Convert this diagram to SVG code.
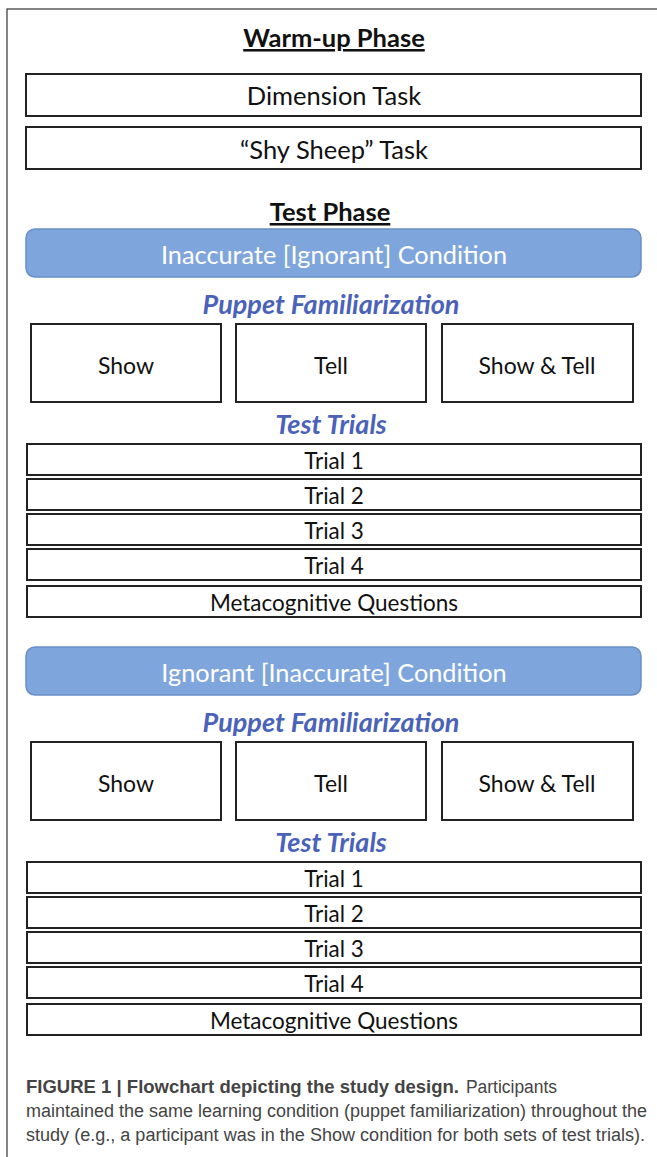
<svg xmlns="http://www.w3.org/2000/svg" width="657" height="1157" viewBox="0 0 657 1157">
<style>
.box{fill:#fff;stroke:#222;stroke-width:2}
.bar{fill:#7fa6dc;stroke:#6a8fc6;stroke-width:1.5}
.t{font-family:Lato,"Open Sans",sans-serif;fill:#111;text-anchor:middle}
.tr{font-size:22.5px}
.bx{font-size:23px}
.hd{font-family:Lato,"Open Sans",sans-serif;font-weight:bold;font-size:25.5px;fill:#111;text-anchor:middle;text-decoration:underline}
.cond{font-family:Lato,"Open Sans",sans-serif;font-size:25.3px;fill:#fff;text-anchor:middle}
.sub{font-family:Lato,"Open Sans",sans-serif;font-weight:bold;font-style:italic;font-size:27px;fill:#4a62ba;text-anchor:middle}
.cap{font-family:"Liberation Sans",Arial,sans-serif;font-size:18px;fill:#444}
</style>
<rect x="7" y="9" width="660" height="1160" fill="none" stroke="#333" stroke-width="1.2"/>
<g id="warmup">
<text class="hd" x="334" y="47">Warm-up Phase</text>
<g id="dimension"><rect class="box" x="26" y="74" width="615" height="42"/><text class="t" x="334" y="105" font-size="25.5">Dimension Task</text></g>
<g id="shysheep"><rect class="box" x="26" y="127" width="615" height="42"/><text class="t" x="334" y="159" font-size="25.5">“Shy Sheep” Task</text></g>
</g>
<text class="hd" x="330" y="221">Test Phase</text>
<g id="section1">
<g id="cond1"><rect class="bar" x="26" y="229" width="615" height="48" rx="9"/><text class="cond" x="334" y="264">Inaccurate [Ignorant] Condition</text></g>
<text class="sub" x="331" y="314">Puppet Familiarization</text>
<g id="show1"><rect class="box" x="31" y="324" width="190" height="78"/><text class="t bx" x="126" y="374">Show</text></g>
<g id="tell1"><rect class="box" x="236" y="324" width="190" height="78"/><text class="t bx" x="331" y="374">Tell</text></g>
<g id="showtell1"><rect class="box" x="442" y="324" width="191" height="78"/><text class="t bx" x="537" y="374">Show &amp; Tell</text></g>
<text class="sub" x="331" y="434">Test Trials</text>
<g id="trial1a"><rect class="box" x="27" y="444" width="614" height="31"/><text class="t tr" x="334" y="469">Trial 1</text></g>
<g id="trial2a"><rect class="box" x="27" y="479" width="614" height="31"/><text class="t tr" x="334" y="504">Trial 2</text></g>
<g id="trial3a"><rect class="box" x="27" y="514" width="614" height="31"/><text class="t tr" x="334" y="539">Trial 3</text></g>
<g id="trial4a"><rect class="box" x="27" y="549" width="614" height="31"/><text class="t tr" x="334" y="574">Trial 4</text></g>
<g id="meta1"><rect class="box" x="27" y="586" width="614" height="31"/><text class="t tr" x="334" y="611">Metacognitive Questions</text></g>
</g>
<g id="section2">
<g id="cond2"><rect class="bar" x="26" y="647" width="615" height="48" rx="9"/><text class="cond" x="334" y="682">Ignorant [Inaccurate] Condition</text></g>
<text class="sub" x="331" y="732">Puppet Familiarization</text>
<g id="show2"><rect class="box" x="31" y="742" width="190" height="78"/><text class="t bx" x="126" y="792">Show</text></g>
<g id="tell2"><rect class="box" x="236" y="742" width="190" height="78"/><text class="t bx" x="331" y="792">Tell</text></g>
<g id="showtell2"><rect class="box" x="442" y="742" width="191" height="78"/><text class="t bx" x="537" y="792">Show &amp; Tell</text></g>
<text class="sub" x="331" y="852">Test Trials</text>
<g id="trial1b"><rect class="box" x="27" y="862" width="614" height="31"/><text class="t tr" x="334" y="887">Trial 1</text></g>
<g id="trial2b"><rect class="box" x="27" y="897" width="614" height="31"/><text class="t tr" x="334" y="922">Trial 2</text></g>
<g id="trial3b"><rect class="box" x="27" y="932" width="614" height="31"/><text class="t tr" x="334" y="957">Trial 3</text></g>
<g id="trial4b"><rect class="box" x="27" y="967" width="614" height="31"/><text class="t tr" x="334" y="992">Trial 4</text></g>
<g id="meta2"><rect class="box" x="27" y="1004" width="614" height="31"/><text class="t tr" x="334" y="1029">Metacognitive Questions</text></g>
</g>
<g id="caption">
<text class="cap" x="26" y="1093" font-weight="bold" fill="#222" textLength="433" lengthAdjust="spacingAndGlyphs">FIGURE 1 | Flowchart depicting the study design.</text>
<text class="cap" x="466" y="1093" textLength="91" lengthAdjust="spacingAndGlyphs">Participants</text>
<text class="cap" x="26" y="1117" textLength="621" lengthAdjust="spacingAndGlyphs">maintained the same learning condition (puppet familiarization) throughout the</text>
<text class="cap" x="26" y="1141" textLength="619" lengthAdjust="spacingAndGlyphs">study (e.g., a participant was in the Show condition for both sets of test trials).</text>
</g>
</svg>
